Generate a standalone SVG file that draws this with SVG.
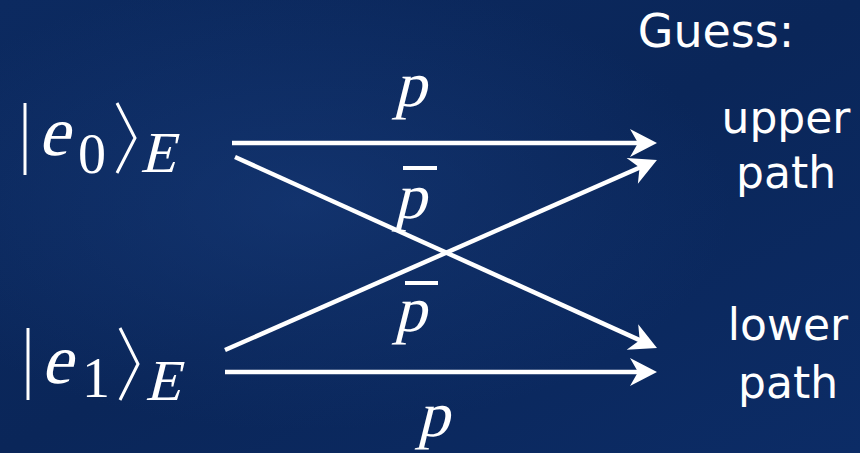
<svg xmlns="http://www.w3.org/2000/svg" width="860" height="453" viewBox="0 0 860 453">
<defs>
<linearGradient id="bg" x1="0" y1="0" x2="1" y2="1">
<stop offset="0" stop-color="#0c2a60"/>
<stop offset="0.5" stop-color="#0a2659"/>
<stop offset="1" stop-color="#0c2c66"/>
</linearGradient>
<radialGradient id="glow1" cx="0.35" cy="0.45" r="0.5">
<stop offset="0" stop-color="#1a3f80" stop-opacity="0.5"/>
<stop offset="1" stop-color="#1a3f80" stop-opacity="0"/>
</radialGradient>
<marker id="ah" viewBox="-20 -16 32 32" refX="0" refY="0" markerWidth="32" markerHeight="32" markerUnits="userSpaceOnUse" orient="auto">
<path d="M10,0 L-17,-14 L-9,0 L-17,14 Z" fill="#ffffff"/>
</marker>
<style>
.conn{stroke:#ffffff;stroke-width:4.5;fill:none;marker-end:url(#ah)}
.m{font-family:"Liberation Serif","DejaVu Serif",serif;fill:#ffffff}
.d{font-family:"Liberation Serif","DejaVu Serif",serif;fill:#ffffff}
.s{font-family:"DejaVu Sans","Liberation Sans",sans-serif;fill:#ffffff;text-anchor:middle}
.br{stroke:#ffffff;stroke-width:3;fill:none}
.bar{stroke:#ffffff;stroke-width:4}
</style>
</defs>
<rect width="860" height="453" fill="url(#bg)"/>
<rect width="860" height="453" fill="url(#glow1)"/>

<g id="connectors">
<line class="conn" x1="232" y1="143" x2="647" y2="143"/>
<line class="conn" x1="235" y1="157" x2="647.9" y2="343.9"/>
<line class="conn" x1="225" y1="350" x2="647.8" y2="164"/>
<line class="conn" x1="225" y1="372" x2="647" y2="372"/>
</g>

<g id="ket-e0">
<line class="br" x1="25" y1="103" x2="25" y2="175"/>
<text class="m" transform="translate(38,155) skewX(-14)" font-size="70">e</text>
<text class="d" x="78" y="173" font-size="56">0</text>
<polyline class="br" points="117,103 135,138 117,173"/>
<text class="m" transform="translate(140,172) skewX(-14)" font-size="58">E</text>
</g>

<g id="ket-e1">
<line class="br" x1="28" y1="328" x2="28" y2="400"/>
<text class="m" transform="translate(41,383) skewX(-14)" font-size="70">e</text>
<text class="d" x="82" y="397" font-size="56">1</text>
<polyline class="br" points="120,328 138,364 120,400"/>
<text class="m" transform="translate(145,400) skewX(-14)" font-size="58">E</text>
</g>

<g id="label-p-top">
<text class="m" transform="translate(394,106) skewX(-14)" font-size="64">p</text>
</g>
<g id="label-pbar-upper">
<line class="bar" x1="403" y1="168" x2="437" y2="168"/>
<text class="m" transform="translate(394,218) skewX(-14)" font-size="64">p</text>
</g>
<g id="label-pbar-lower">
<line class="bar" x1="405" y1="283" x2="438" y2="283"/>
<text class="m" transform="translate(394,331) skewX(-14)" font-size="64">p</text>
</g>
<g id="label-p-bottom">
<text class="m" transform="translate(417,436) skewX(-14)" font-size="64">p</text>
</g>

<g id="guess">
<text class="s" x="716" y="47" font-size="46">Guess:</text>
</g>
<g id="upper-path">
<text class="s" x="786" y="133" font-size="44">upper</text>
<text class="s" x="786" y="188" font-size="44">path</text>
</g>
<g id="lower-path">
<text class="s" x="788" y="340" font-size="44">lower</text>
<text class="s" x="788" y="398" font-size="44">path</text>
</g>
</svg>
